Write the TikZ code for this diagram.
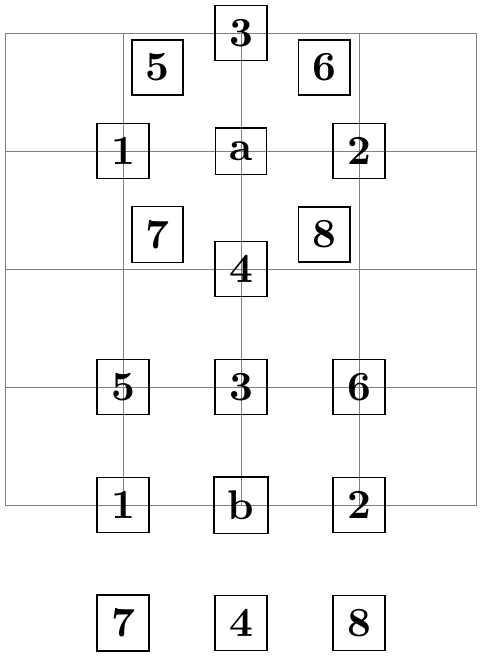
\documentclass[tikz,border=0pt]{standalone}
\usetikzlibrary{positioning}
\begin{document}
\begin{tikzpicture}[>=latex]

        \tikzstyle{pixbox}=[draw, rectangle, font=\bfseries]
        \tikzstyle{gridline}=[gray, line width=0.2pt]
        \useasboundingbox (-0.042,-1.288) rectangle (4.042,4.28);

        \draw[gridline] (0,0) grid (4,4); %

%%%% upper: neighbours of a
        \begin{scope}[shift={(2,3)}]
        \node (a) [pixbox] at (0,0) {a};
        \foreach \n/\ang in {1/180,2/0,3/90,4/270,5/135,6/45,7/225,8/315}
            \node (a\n) [pixbox] at (\ang:1) {\n};
        \end{scope}

%%%% lower: neighbours of b
        \node (b) [pixbox] at (2,0) {b};
        \foreach \n/\x/\y in {1/-1/0,2/1/0,3/0/1,4/0/-1,5/-1/1,6/1/1,7/-1/-1,8/1/-1}
            \node (b\n) [pixbox] at (2+\x,\y) {\n};

\end{tikzpicture}
\end{document}
